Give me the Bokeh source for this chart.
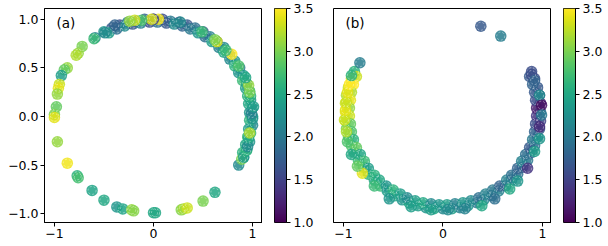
import numpy as np
from bokeh.plotting import figure
from bokeh.layouts import row
from bokeh.models import ColumnDataSource, Label, LinearColorMapper, FixedTicker, Range1d
from bokeh.transform import linear_cmap
from bokeh.palettes import Viridis256
from bokeh.embed import file_html
from bokeh.resources import INLINE

C_LOW, C_HIGH = 1.0, 3.5
x_ticks = [-1, 0, 1]
x_tick_labels = {-1: "\u22121", 0: "0", 1: "1"}
y_ticks = [-1.0, -0.5, 0.0, 0.5, 1.0]
y_tick_labels = {-1.0: "\u22121.0", -0.5: "\u22120.5", 0.0: "0.0", 0.5: "0.5", 1.0: "1.0"}
cbar_ticks = [1.0, 1.5, 2.0, 2.5, 3.0, 3.5]
cbar_tick_labels = {1.0: "1.0", 1.5: "1.5", 2.0: "2.0", 2.5: "2.5", 3.0: "3.0", 3.5: "3.5"}

# ---- panel (a): dense band (two rows) ----
a_band_x = [-0.50, -0.42, -0.34, -0.26, -0.17, -0.09, 0.00, 0.09, 0.17, 0.26,
            0.34, 0.42, 0.50, 0.57, 0.64, 0.71, 0.77, 0.82, 0.87, 0.91,
            0.94, 0.97, 0.98, 1.00, 1.00, 1.00, 0.98, 0.97, 0.94, 0.91,
            -0.45, -0.37, -0.29, -0.21, -0.13, -0.04, 0.04, 0.13, 0.21, 0.29,
            0.37, 0.45, 0.52, 0.59, 0.66, 0.71, 0.77, 0.82, 0.86, 0.90,
            0.93, 0.95, 0.96, 0.97, 0.97, 0.96, 0.95, 0.93, 0.90]
a_band_y = [0.87, 0.91, 0.94, 0.97, 0.98, 1.00, 1.00, 1.00, 0.98, 0.97,
            0.94, 0.91, 0.87, 0.82, 0.77, 0.71, 0.64, 0.57, 0.50, 0.42,
            0.34, 0.26, 0.17, 0.09, 0.00, -0.09, -0.17, -0.26, -0.34, -0.42,
            0.86, 0.90, 0.93, 0.95, 0.96, 0.97, 0.97, 0.96, 0.95, 0.93,
            0.90, 0.86, 0.82, 0.77, 0.71, 0.66, 0.59, 0.52, 0.45, 0.37,
            0.29, 0.21, 0.13, 0.04, -0.04, -0.13, -0.21, -0.29, -0.37]
a_band_c = [2.3, 1.7, 1.6, 2.0, 1.5, 1.8, 1.4, 1.6, 2.0, 1.5,
            1.7, 1.9, 1.6, 2.1, 1.8, 2.2, 1.9, 2.3, 2.0, 2.4,
            2.2, 2.5, 2.3, 2.1, 2.4, 2.2, 2.6, 2.3, 2.5, 2.2,
            2.4, 1.9, 2.2, 1.7, 2.1, 1.6, 1.9, 1.7, 2.2, 1.8,
            2.0, 2.3, 1.9, 2.4, 2.1, 2.5, 2.2, 2.6, 2.3, 2.7,
            2.4, 2.6, 2.5, 2.3, 2.6, 2.4, 2.7, 2.5, 2.6]

# ---- panel (a): individual points ----
a_pts_x = [-0.98, -1.00, -1.00, -0.97, -0.87, -0.77, -0.76, -0.62, -0.50, -0.37,
           -0.31, -0.22, -0.20, 0.00, 0.02, 0.28, 0.30, 0.34, 0.50, 0.62,
           0.86, 0.89, 0.91, 0.94, 0.95, 0.96, 0.97, 1.00, 0.99, 1.01,
           0.98, 0.96, 0.97, 0.93, 0.86, 0.79, 0.73, 0.64, 0.62, 0.49,
           0.27, 0.05, 0.00, -0.02, -0.12, -0.19, -0.24, -0.39, -0.49, -0.59,
           -0.60, -0.72, -0.76, -0.78, -0.87, -0.90, -0.93, -0.95, -0.96, -0.97]
a_pts_y = [0.10, 0.02, -0.01, -0.26, -0.48, -0.61, -0.63, -0.76, -0.86, -0.93,
           -0.95, -0.96, -0.97, -0.99, -0.99, -0.96, -0.95, -0.94, -0.87, -0.78,
           -0.50, -0.44, -0.42, -0.35, -0.31, -0.22, -0.17, -0.02, 0.03, 0.10,
           0.21, 0.32, 0.25, 0.40, 0.52, 0.64, 0.68, 0.77, 0.79, 0.87,
           0.97, 1.00, 1.00, 1.00, 0.99, 0.99, 0.98, 0.94, 0.86, 0.81,
           0.80, 0.72, 0.65, 0.63, 0.50, 0.48, 0.42, 0.33, 0.29, 0.23]
a_pts_c = [2.9, 3.0, 3.4, 3.1, 3.45, 2.6, 2.75, 2.45, 2.5, 2.3,
           2.45, 3.1, 3.05, 2.5, 2.5, 3.05, 3.15, 3.3, 3.0, 2.5,
           2.2, 3.0, 2.4, 2.6, 2.2, 2.5, 3.2, 2.3, 2.1, 2.4,
           2.6, 3.1, 3.0, 2.5, 2.8, 3.5, 2.7, 3.35, 3.0, 2.7,
           2.2, 3.45, 1.5, 3.35, 2.8, 3.3, 3.1, 1.8, 2.2, 2.1,
           2.7, 3.0, 3.1, 3.2, 3.1, 2.9, 2.4, 3.3, 3.4, 3.1]

# ---- panel (b): dense band (two rows) ----
b_band_x = [-0.89, -0.92, -0.95, -0.97, -0.98, -0.98, -0.98, -0.97, -0.95, -0.92,
            -0.89, -0.85, -0.80, -0.75, -0.69, -0.63, -0.56, -0.49, -0.41, -0.34,
            -0.25, -0.17, -0.09, 0.00, 0.09, 0.17, 0.25, 0.34, 0.41, 0.49,
            0.56, 0.63, 0.69, 0.75, 0.80, 0.85, 0.89, 0.92, 0.95, 0.97,
            0.98, 0.98, 0.98, 0.97, 0.95, 0.92, 0.89,
            -0.87, -0.90, -0.92, -0.93, -0.94, -0.94, -0.93, -0.92, -0.90, -0.87,
            -0.83, -0.79, -0.75, -0.69, -0.64, -0.57, -0.50, -0.43, -0.36, -0.28,
            -0.20, -0.12, -0.04, 0.04, 0.12, 0.20, 0.28, 0.36, 0.43, 0.50,
            0.57, 0.64, 0.69, 0.75, 0.79, 0.83, 0.87, 0.90, 0.92, 0.93,
            0.94, 0.94, 0.93, 0.92, 0.90, 0.87]
b_band_y = [0.41, 0.34, 0.25, 0.17, 0.09, 0.00, -0.09, -0.17, -0.25, -0.34,
            -0.41, -0.49, -0.56, -0.63, -0.69, -0.75, -0.80, -0.85, -0.89, -0.92,
            -0.95, -0.97, -0.98, -0.98, -0.98, -0.97, -0.95, -0.92, -0.89, -0.85,
            -0.80, -0.75, -0.69, -0.63, -0.56, -0.49, -0.41, -0.34, -0.25, -0.17,
            -0.09, 0.00, 0.09, 0.17, 0.25, 0.34, 0.41,
            0.36, 0.28, 0.20, 0.12, 0.04, -0.04, -0.12, -0.20, -0.28, -0.36,
            -0.43, -0.50, -0.57, -0.64, -0.69, -0.75, -0.79, -0.83, -0.87, -0.90,
            -0.92, -0.93, -0.94, -0.94, -0.93, -0.92, -0.90, -0.87, -0.83, -0.79,
            -0.75, -0.69, -0.64, -0.57, -0.50, -0.43, -0.36, -0.28, -0.20, -0.12,
            -0.04, 0.04, 0.12, 0.20, 0.28, 0.36]
b_band_c = [2.6, 3.4, 3.3, 3.2, 3.3, 3.4, 3.2, 3.0, 2.9, 2.8,
            2.6, 2.7, 2.8, 2.6, 2.5, 2.7, 2.4, 2.5, 2.3, 2.5,
            2.4, 2.3, 2.5, 2.2, 2.4, 2.1, 2.3, 2.0, 2.2, 1.9,
            2.1, 1.8, 2.0, 1.9, 1.7, 2.0, 1.8, 1.9, 2.1, 1.7,
            1.5, 1.9, 1.3, 1.8, 1.7, 1.6, 1.6,
            3.3, 3.5, 3.2, 3.4, 3.1, 3.3, 2.9, 2.8, 2.6, 2.9,
            2.5, 2.7, 2.4, 2.6, 2.5, 2.3, 2.6, 2.4, 2.2, 2.4,
            2.5, 2.2, 2.3, 2.4, 2.1, 2.3, 2.2, 1.9, 2.1, 2.0,
            1.8, 2.1, 1.9, 1.8, 2.1, 1.9, 1.7, 2.0, 1.8, 1.6,
            1.4, 1.2, 1.6, 1.7, 1.8, 1.7]

# ---- panel (b): individual points ----
b_pts_x = [0.89, 0.92, 0.97, 0.99, 0.99, 0.97, 0.97, 0.92, 0.85, 0.75,
           0.67, 0.52, 0.39, 0.22, 0.05, -0.12, -0.32, -0.54, -0.69, -0.81,
           -0.86, -0.92, -0.96, -0.97, -0.99, -0.98, -0.97, -0.96, -0.94, -0.92,
           0.38, 0.58, -0.835]
b_pts_y = [0.38, 0.32, 0.17, 0.07, -0.03, -0.15, -0.27, -0.40, -0.57, -0.70,
           -0.78, -0.88, -0.95, -0.98, -0.99, -0.99, -0.96, -0.88, -0.75, -0.62,
           -0.55, -0.43, -0.30, -0.20, -0.08, 0.02, 0.10, 0.20, 0.28, 0.37,
           0.87, 0.77, 0.50]
b_pts_c = [1.6, 1.8, 2.2, 1.1, 2.0, 1.3, 2.3, 2.4, 1.4, 2.3,
           2.5, 1.9, 2.5, 2.1, 2.2, 2.4, 2.4, 2.3, 2.7, 3.4,
           2.9, 2.5, 2.8, 3.2, 3.3, 3.4, 3.3, 3.4, 3.5, 2.6,
           1.7, 2.05, 2.05]

FONT = "DejaVu Sans"
FRAME_W, FRAME_H = 218, 214
TOP, BOTTOM = 8, 21


def style_axes(p):
    for ax in (p.xaxis, p.yaxis):
        ax.major_tick_out = 4
        ax.major_tick_in = 0
        ax.minor_tick_out = 0
        ax.minor_tick_in = 0
        ax.major_label_text_font = FONT
        ax.major_label_text_font_size = "12.5px"
        ax.major_label_text_color = "#000000"
        ax.axis_line_color = "#000000"
        ax.major_tick_line_color = "#000000"
        ax.major_label_standoff = 2
    p.xgrid.visible = False
    p.ygrid.visible = False
    p.outline_line_color = "#000000"
    p.outline_line_width = 1
    p.outline_line_alpha = 1.0
    p.background_fill_color = "white"
    p.border_fill_color = "white"


def draw_points(p, xs, ys, cs):
    src = ColumnDataSource(dict(x=xs, y=ys, c=cs))
    p.scatter(x="x", y="y", source=src, size=11.5, marker="circle",
              fill_color=linear_cmap("c", Viridis256, C_LOW, C_HIGH),
              fill_alpha=0.85, line_color=None)
    p.scatter(x="x", y="y", source=src, size=8, marker="circle",
              fill_color=None, line_color="white", line_dash="2 2",
              line_width=0.8, line_alpha=0.5)


def make_panel(xr, yr, label, band, pts, left_border, show_y):
    p = figure(frame_width=FRAME_W, frame_height=FRAME_H,
               x_range=Range1d(*xr), y_range=Range1d(*yr),
               toolbar_location=None, output_backend="svg",
               min_border_left=left_border, min_border_right=0,
               min_border_top=TOP, min_border_bottom=BOTTOM)
    style_axes(p)
    p.xaxis.ticker = FixedTicker(ticks=x_ticks)
    p.xaxis.major_label_overrides = x_tick_labels
    if show_y:
        p.yaxis.ticker = FixedTicker(ticks=y_ticks)
        p.yaxis.major_label_overrides = y_tick_labels
    else:
        p.yaxis.visible = False
    draw_points(p, *band)
    draw_points(p, *pts)
    p.add_layout(Label(x=xr[0] + 0.12, y=yr[1] - 0.07, text=label,
                       text_baseline="top", text_align="left",
                       text_font=FONT, text_font_size="13.5px",
                       text_color="#000000"))
    return p


def make_cbar(left_border, right_border):
    p = figure(frame_width=12, frame_height=FRAME_H,
               x_range=Range1d(0, 1), y_range=Range1d(C_LOW, C_HIGH),
               toolbar_location=None, output_backend="svg",
               min_border_left=left_border, min_border_right=right_border,
               min_border_top=TOP, min_border_bottom=BOTTOM,
               x_axis_location=None, y_axis_location="right")
    style_axes(p)
    p.yaxis.ticker = FixedTicker(ticks=cbar_ticks)
    p.yaxis.major_label_overrides = cbar_tick_labels
    p.yaxis.major_label_standoff = 3
    grad = np.linspace(C_LOW, C_HIGH, 256).reshape(256, 1)
    mapper = LinearColorMapper(palette=Viridis256, low=C_LOW, high=C_HIGH)
    p.image(image=[grad], x=0, y=C_LOW, dw=1, dh=C_HIGH - C_LOW, color_mapper=mapper)
    return p


pa = make_panel((-1.10, 1.10), (-1.09, 1.11), "(a)",
                (a_band_x, a_band_y, a_band_c), (a_pts_x, a_pts_y, a_pts_c),
                44, True)
ca = make_cbar(12, 30)
pb = make_panel((-1.10, 1.09), (-1.12, 1.05), "(b)",
                (b_band_x, b_band_y, b_band_c), (b_pts_x, b_pts_y, b_pts_c),
                17, False)
cb = make_cbar(12, 30)

layout = row(pa, ca, pb, cb, spacing=0)
open("out.html", "w").write(file_html(layout, INLINE))
